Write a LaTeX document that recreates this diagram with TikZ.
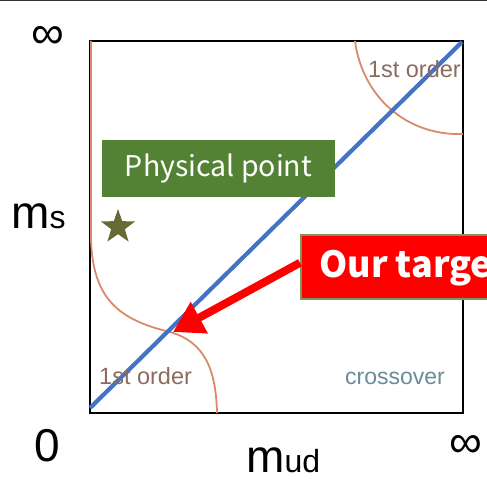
\documentclass[tikz,border=0pt]{standalone}
\usepackage{fontspec}
\setmainfont{Liberation Sans}
\newfontfamily\jpfont{Noto Sans CJK JP}
\usetikzlibrary{shapes.geometric,arrows.meta}
\definecolor{boxgreen}{HTML}{548235}
\definecolor{curvec}{HTML}{D9896E}
\definecolor{ordc}{HTML}{8B6B5E}
\definecolor{crossc}{HTML}{6A8C96}
\definecolor{bluec}{HTML}{4472C4}
\definecolor{starc}{HTML}{676A35}
\begin{document}
\begin{tikzpicture}[x=1pt,y=-1pt,
  axlab/.style={inner sep=0pt,text=black},
  ordlab/.style={inner sep=0pt,text=ordc,font=\fontsize{23.5}{23.5}\selectfont},
  curve/.style={draw=curvec,line width=1.8pt}]
\useasboundingbox (0,0) rectangle (487,481);
\draw[line width=1.5pt,black!80] (0,0.75) -- (487,0.75);
% frame
\draw[line width=2.2pt,black] (90,41) rectangle (463,413);
% curves
\draw[curve] (91,41) -- (91,240) .. controls (93,300) and (120,320) .. (170,332)
  .. controls (205,342) and (216,370) .. (217,413);
\draw[curve] (355,41) .. controls (362,95) and (405,136) .. (463,134);
% diagonal
\coordinate (o) at (90,408);
\coordinate (inf) at (462,42);
\draw[bluec,line width=4.2pt] (o) -- (inf);
% labels
\node[ordlab,anchor=base east] (o1) at (461,78) {1st order};
\node[ordlab,anchor=base west] (o2) at (99,384) {1st order};
\node[inner sep=0pt,text=crossc,font=\fontsize{23}{23}\selectfont,anchor=base east] (cr) at (445,384) {crossover};
% physical point
\node[fill=boxgreen,text=white,minimum width=233pt,minimum height=57pt,inner sep=0pt,
  font=\jpfont\fontsize{28.5}{28.5}\selectfont] (pp) at (218.5,168.5) {Physical point};
\node[star,star points=5,star point ratio=2.5,fill=starc,minimum size=36pt,inner sep=0pt] (st) at (118,227) {};
% target
\begin{scope}
\clip (0,0) rectangle (487,481);
\node[fill=red,draw=boxgreen!80,line width=1.5pt,anchor=north west,minimum width=220pt,minimum height=64pt,
  inner sep=0pt] (tg) at (300,234) {};
\node[anchor=base west,inner sep=0pt,text=white,font=\jpfont\bfseries\fontsize{36}{36}\selectfont] (tgt) at (319,277) {Our target};
\end{scope}
\coordinate (tip) at (173,332);
\draw[red,line width=8pt,-{Triangle[length=30pt,width=34pt]}] (tg.west) ++(0,-4) -- (tip);
% axis labels
\node[axlab,font=\fontsize{46}{46}\selectfont] (i1) at (48,37) {∞};
\node[axlab,font=\fontsize{46}{46}\selectfont,anchor=base west] (ms) at (11,228) {m\fontsize{32}{32}\selectfont s};
\node[axlab,font=\fontsize{46}{46}\selectfont] (z) at (47,446) {0};
\node[axlab,font=\fontsize{46}{46}\selectfont,anchor=base west] (mud) at (246,472) {m\fontsize{32}{32}\selectfont ud};
\node[axlab,font=\fontsize{46}{46}\selectfont] (i2) at (466,446) {∞};
\end{tikzpicture}
\end{document}
